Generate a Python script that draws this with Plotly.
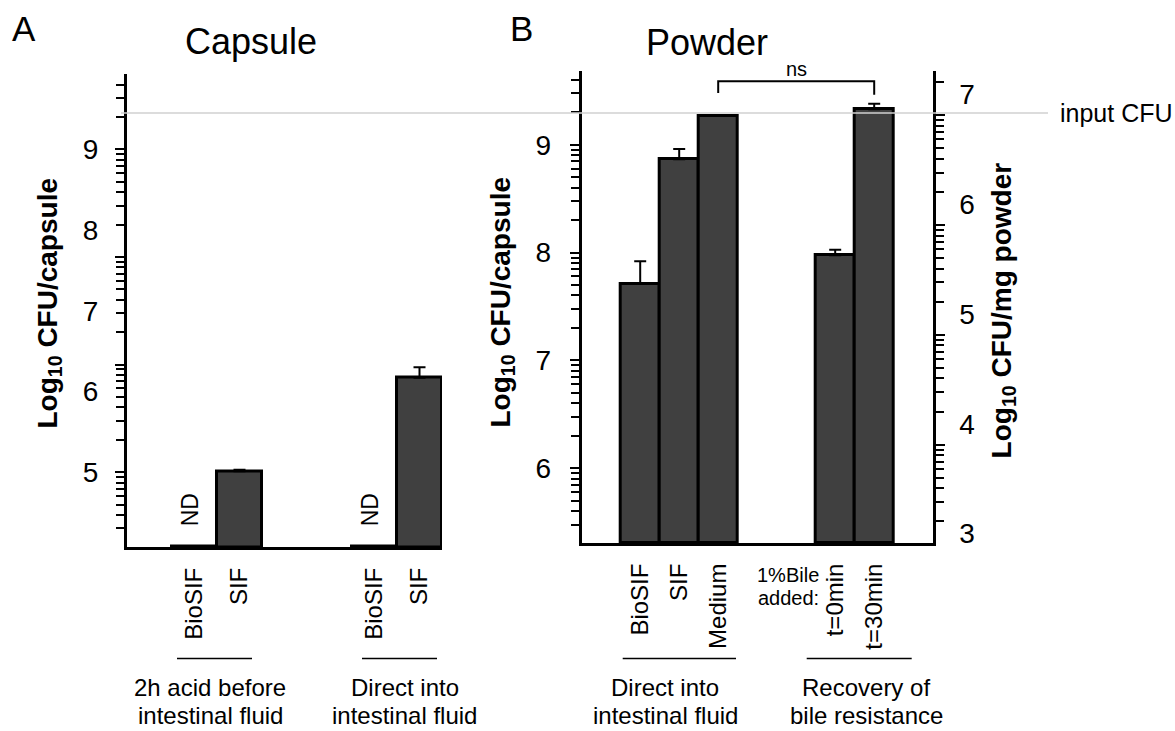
import numpy as np
import plotly.graph_objects as go

W, H = 1175, 731
FONT = "Liberation Sans, Arial, sans-serif"
BAR_COLOR = "#404040"

# ---------------- data ----------------
# Panel A (Capsule), values in log10 CFU/capsule; None = not detected (ND)
a_pos = [0, 1, 4, 5]
a_labels = ["BioSIF", "SIF", "BioSIF", "SIF"]
a_values = [None, 5.01, None, 6.17]
a_err = [0, 0.02, 0, 0.13]
a_groups = ["2h acid before<br>intestinal fluid", "Direct into<br>intestinal fluid"]

# Panel B (Powder), values in log10 CFU/capsule
b_pos = [0, 1, 2, 5, 6]
b_labels = ["BioSIF", "SIF", "Medium", "t=0min", "t=30min"]
b_values = [7.71, 8.865, 9.27, 7.975, 9.33]
b_err = [0.21, 0.095, 0.0, 0.05, 0.05]
b_groups = ["Direct into<br>intestinal fluid", "Recovery of<br>bile resistance"]

input_cfu = 9.294          # input CFU reference (panel B left axis units)
ns_pair = (2, 6)           # Medium vs t=30min
ns_level = 9.48

# axis labels
a_ticks = [5, 6, 7, 8, 9]
b_ticks = [6, 7, 8, 9]
r_ticks = [3, 4, 5, 6, 7]

# ---------------- helpers ----------------
def X(px):
    return px / W

def Y(py):
    return 1 - py / H

A_RANGE = [4.07, 9.93]
B_RANGE = [5.306, 9.685]
R_RANGE = [2.914, 7.212]

def log_minor(decades, step, rng):
    out = []
    for d in decades:
        for k in range(2, 10):
            v = d + step * np.log10(k)
            if rng[0] < v < rng[1]:
                out.append(float(v))
    return out

a_dec = [5 - 4 / 3, 5, 5 + 4 / 3, 5 + 8 / 3, 9]
b_dec = [5, 6, 7, 8, 9]
r_dec = [2.81, 3.81, 4.81, 5.81, 6.81]
a_minor = log_minor(a_dec, 4 / 3, A_RANGE)
b_minor = log_minor(b_dec, 1, B_RANGE)
r_minor = log_minor(r_dec, 1, R_RANGE)

fig = go.Figure()

A_BASE = A_RANGE[0]
B_BASE = B_RANGE[0]
a_h = [(v - A_BASE) if v is not None else 0.012 for v in a_values]
b_h = [v - B_BASE for v in b_values]

errstyle = dict(type="data", symmetric=False, thickness=2, width=6, color="black")

fig.add_trace(go.Bar(
    x=a_pos, y=a_h, base=A_BASE, width=1, xaxis="x", yaxis="y",
    marker=dict(color=BAR_COLOR, line=dict(color="black", width=3)),
    error_y=dict(array=a_err, arrayminus=[0] * len(a_err), **errstyle),
    showlegend=False))

fig.add_trace(go.Bar(
    x=b_pos, y=b_h, base=B_BASE, width=1, xaxis="x2", yaxis="y2",
    marker=dict(color=BAR_COLOR, line=dict(color="black", width=3)),
    error_y=dict(array=b_err, arrayminus=[0] * len(b_err), **errstyle),
    showlegend=False))

# invisible traces to make overlay axes render
for xa, ya in [("x", "y4"), ("x2", "y3"), ("x2", "y5"), ("x2", "y6")]:
    fig.add_trace(go.Scatter(x=[None], y=[None], xaxis=xa, yaxis=ya,
                             showlegend=False, hoverinfo="skip"))

tickfont = dict(size=28, family=FONT, color="black")
catfont = dict(size=24, family=FONT, color="black")

def yax(rng, dom, anchor, **kw):
    d = dict(range=rng, domain=dom, anchor=anchor, showgrid=False, zeroline=False,
             fixedrange=True)
    d.update(kw)
    return d

A_DOM = [Y(551.7), Y(75)]
B_DOM = [Y(547.5), Y(71.5)]

minor_common = dict(tickmode="array", ticks="outside", ticklen=8, tickwidth=2,
                    tickcolor="black", showgrid=False)

fig.update_layout(
    width=W, height=H, margin=dict(l=0, r=0, t=0, b=0),
    paper_bgcolor="white", plot_bgcolor="white",
    font=dict(family=FONT, color="black"),
    bargap=0,
    xaxis=dict(domain=[X(127), X(442)], range=[-1.5, 5.5], anchor="y",
               tickmode="array", tickvals=a_pos, ticktext=a_labels, tickangle=-90,
               tickfont=catfont, ticks="", showline=True, linewidth=3,
               linecolor="black", showgrid=False, zeroline=False,
               ticklabelstandoff=8, fixedrange=True),
    xaxis2=dict(domain=[X(581.7), X(932.7)], range=[-1.5, 7.5], anchor="y2",
                tickmode="array", tickvals=b_pos, ticktext=b_labels, tickangle=-90,
                tickfont=catfont, ticks="", showline=True, linewidth=3,
                linecolor="black", showgrid=False, zeroline=False,
                ticklabelstandoff=8, fixedrange=True),
    yaxis=yax(A_RANGE, A_DOM, "x", showline=True, linewidth=3, linecolor="black",
              tickmode="array", tickvals=a_ticks, ticks="outside", ticklen=0,
              tickfont=tickfont, ticklabelstandoff=20,
              minor=dict(tickvals=a_minor, **minor_common)),
    yaxis4=yax(A_RANGE, A_DOM, "x", overlaying="y", side="left",
               tickmode="array", tickvals=a_dec, ticks="outside", ticklen=11,
               tickwidth=2, tickcolor="black", showticklabels=False, showline=False),
    yaxis2=yax(B_RANGE, B_DOM, "x2", showline=True, linewidth=3, linecolor="black",
               tickmode="array", tickvals=b_ticks, ticks="outside", ticklen=0,
               tickfont=tickfont, ticklabelstandoff=22,
               minor=dict(tickvals=b_minor, **minor_common)),
    yaxis5=yax(B_RANGE, B_DOM, "x2", overlaying="y2", side="left",
               tickmode="array", tickvals=b_dec, ticks="outside", ticklen=11,
               tickwidth=2, tickcolor="black", showticklabels=False, showline=False),
    yaxis3=yax(R_RANGE, B_DOM, "x2", overlaying="y2", side="right",
               showline=True, linewidth=3, linecolor="black",
               tickmode="array", tickvals=r_ticks, ticks="outside", ticklen=0,
               tickfont=tickfont, ticklabelstandoff=18,
               minor=dict(tickvals=r_minor, **minor_common)),
    yaxis6=yax(R_RANGE, B_DOM, "x2", overlaying="y2", side="right",
               tickmode="array", tickvals=r_dec, ticks="outside", ticklen=11,
               tickwidth=2, tickcolor="black", showticklabels=False, showline=False),
)

ann = []
def text(x, y, s, size, xref="paper", yref="paper", angle=0, bold=False,
         xanchor="center", yanchor="middle", xshift=0):
    if bold:
        s = "<b>" + s + "</b>"
    ann.append(dict(x=x, y=y, xref=xref, yref=yref, text=s, showarrow=False,
                    textangle=angle, xanchor=xanchor, yanchor=yanchor, xshift=xshift,
                    font=dict(size=size, family=FONT, color="black")))

# panel letters and titles
text(X(24), Y(29), "A", 35)
text(X(521.7), Y(29), "B", 35)
text(X(250.5), Y(42), "Capsule", 36)
text(X(707), Y(43), "Powder", 36)

# axis titles
text(X(49), Y(306), "Log<sub>10</sub> CFU/capsule", 28, angle=-90, bold=True)
text(X(502), Y(305), "Log<sub>10</sub> CFU/capsule", 28, angle=-90, bold=True)
text(X(1003), Y(313), "Log<sub>10</sub> CFU/mg powder", 28, angle=-90, bold=True)

# ND labels
for p, v in zip(a_pos, a_values):
    if v is None:
        text(p, Y(514), "ND", 23, xref="x", angle=-90, xshift=-5)

# input CFU
text(X(1058), Y(114), "input CFU", 25, xanchor="left")
# ns
text((ns_pair[0] + ns_pair[1]) / 2, Y(70), "ns", 20, xref="x2")
# bile label
text(X(788), Y(580), "1%Bile", 20)
text(X(788), Y(603), "added:", 20)

# group labels
for cx, s in zip([210, 404.6], a_groups):
    l1, l2 = s.split("<br>")
    text(X(cx), Y(693), l1, 24)
    text(X(cx), Y(721), l2, 24)
for cx, s in zip([665, 866], b_groups):
    l1, l2 = s.split("<br>")
    text(X(cx), Y(693), l1, 24)
    text(X(cx), Y(721), l2, 24)

fig.update_layout(annotations=ann)

shapes = []
# input CFU line
shapes.append(dict(type="line", xref="paper", yref="y2", x0=X(121), x1=X(1048),
                   y0=input_cfu, y1=input_cfu, line=dict(color="#d0d0d0", width=1.5)))
# ns bracket
shapes.append(dict(type="path", xref="x2", yref="y2",
                   path=f"M {ns_pair[0]},{ns_level} L {ns_pair[0]},9.59 L {ns_pair[1]},9.59 L {ns_pair[1]},{ns_level - 0.015}",
                   line=dict(color="black", width=2)))
# group underlines
for x0, x1 in [(177, 252), (362, 437), (622.7, 736), (806.7, 911.7)]:
    shapes.append(dict(type="line", xref="paper", yref="paper", x0=X(x0), x1=X(x1),
                       y0=Y(664), y1=Y(664), line=dict(color="black", width=1.5)))
fig.update_layout(shapes=shapes)

fig.write_html("out.html", config={"displayModeBar": False},
               post_script="document.body.style.margin='0';document.body.style.overflow='hidden';")
